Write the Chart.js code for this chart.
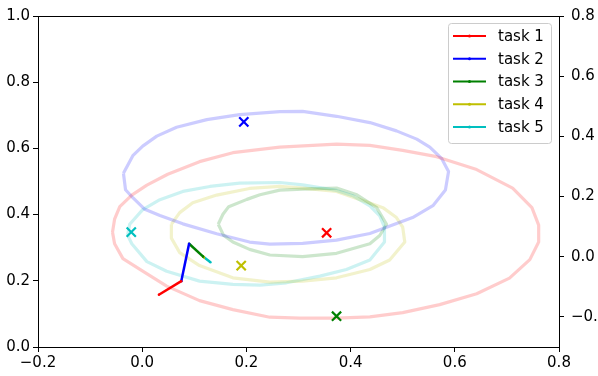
<!DOCTYPE html>
<html>
<head>
<meta charset="utf-8">
<script src="https://cdn.jsdelivr.net/npm/chart.js@4"></script>
<style>
  html, body { margin: 0; padding: 0; background: #fff; overflow: hidden; }
  #wrap { width: 598px; height: 376px; overflow: hidden; }
</style>
</head>
<body>
<div id="wrap"><canvas id="chart" width="620" height="376"></canvas></div>
<script>
const taskNames = ['task 1', 'task 2', 'task 3', 'task 4', 'task 5'];
const lineColors = ['#ff0000', '#0000ff', '#008000', '#bfbf00', '#00bfbf'];
const ringColors = ['rgba(255,0,0,0.2)', 'rgba(0,0,255,0.2)', 'rgba(0,128,0,0.2)', 'rgba(191,191,0,0.2)', 'rgba(0,191,191,0.2)'];

// path of the moving point, one segment per task
const pathX = [0.032, 0.075, 0.090, 0.117, 0.118, 0.131];
const pathY = [0.158, 0.199, 0.312, 0.273, 0.272, 0.256];

// x markers
const markX = [0.354, 0.195, 0.373, 0.190, -0.021];
const markY = [0.345, 0.680, 0.093, 0.246, 0.347];

// outlines
const ring1X = [-0.057, -0.053, -0.043, -0.020, 0.009, 0.049, 0.110, 0.174, 0.264, 0.373, 0.437, 0.500, 0.565, 0.642, 0.711, 0.748, 0.761, 0.761, 0.744, 0.705, 0.642, 0.571, 0.500, 0.437, 0.373, 0.302, 0.245, 0.174, 0.110, 0.047, 0.001, -0.037, -0.053, -0.057];
const ring1Y = [0.347, 0.386, 0.424, 0.459, 0.489, 0.522, 0.560, 0.587, 0.604, 0.613, 0.609, 0.594, 0.575, 0.536, 0.480, 0.421, 0.368, 0.317, 0.264, 0.208, 0.161, 0.128, 0.104, 0.091, 0.087, 0.087, 0.090, 0.113, 0.140, 0.184, 0.229, 0.267, 0.312, 0.347];
const ring2X = [-0.036, -0.018, 0.001, 0.028, 0.066, 0.124, 0.187, 0.264, 0.308, 0.373, 0.437, 0.488, 0.527, 0.552, 0.575, 0.588, 0.582, 0.558, 0.519, 0.469, 0.437, 0.373, 0.308, 0.245, 0.206, 0.143, 0.078, 0.034, 0.005, -0.018, -0.032, -0.036];
const ring2Y = [0.525, 0.578, 0.607, 0.637, 0.664, 0.687, 0.702, 0.711, 0.712, 0.697, 0.678, 0.653, 0.628, 0.604, 0.569, 0.530, 0.474, 0.427, 0.391, 0.362, 0.343, 0.323, 0.313, 0.311, 0.317, 0.342, 0.372, 0.397, 0.416, 0.451, 0.475, 0.525];
const ring3X = [0.146, 0.155, 0.166, 0.201, 0.226, 0.264, 0.308, 0.373, 0.412, 0.450, 0.469, 0.456, 0.437, 0.373, 0.308, 0.245, 0.206, 0.174, 0.156, 0.146];
const ring3Y = [0.371, 0.401, 0.424, 0.446, 0.460, 0.474, 0.477, 0.480, 0.460, 0.421, 0.371, 0.337, 0.312, 0.283, 0.273, 0.278, 0.295, 0.317, 0.338, 0.371];
const ring4X = [0.056, 0.072, 0.097, 0.143, 0.206, 0.264, 0.308, 0.373, 0.417, 0.462, 0.488, 0.500, 0.504, 0.475, 0.437, 0.373, 0.308, 0.245, 0.174, 0.110, 0.072, 0.056, 0.056];
const ring4Y = [0.371, 0.406, 0.436, 0.459, 0.479, 0.485, 0.480, 0.470, 0.446, 0.421, 0.391, 0.362, 0.317, 0.263, 0.234, 0.209, 0.199, 0.196, 0.209, 0.246, 0.285, 0.329, 0.371];
const ring5X = [-0.028, -0.024, 0.001, 0.034, 0.078, 0.130, 0.187, 0.264, 0.308, 0.373, 0.404, 0.437, 0.456, 0.465, 0.465, 0.437, 0.392, 0.341, 0.277, 0.226, 0.174, 0.110, 0.047, 0.009, -0.020, -0.028];
const ring5Y = [0.338, 0.371, 0.415, 0.445, 0.470, 0.485, 0.495, 0.497, 0.490, 0.473, 0.457, 0.426, 0.396, 0.362, 0.317, 0.263, 0.234, 0.214, 0.194, 0.187, 0.189, 0.199, 0.229, 0.258, 0.312, 0.338];

const xTicks = [-0.2, 0.0, 0.2, 0.4, 0.6, 0.8];
const yTicks = [0.0, 0.2, 0.4, 0.6, 0.8, 1.0];
const y2Ticks = [-0.2, 0.0, 0.2, 0.4, 0.6, 0.8];

function pts(xs, ys) {
    return xs.map((x, i) => ({x: x, y: ys[i]}));
}

function fmt(v) {
    if (Math.abs(v) < 1e-9) v = 0;
    return v.toFixed(1).replace('-', '\u2212');
}

const datasets = [];
datasets.push({
    data: pts(markX, markY),
    showLine: false,
    pointStyle: 'crossRot',
    pointRadius: 6.5,
    pointBorderWidth: 2.2,
    pointBorderColor: lineColors,
    pointBackgroundColor: lineColors
});
taskNames.forEach((name, i) => {
    datasets.push({
        label: name,
        data: pts(pathX.slice(i, i + 2), pathY.slice(i, i + 2)),
        showLine: true,
        borderColor: lineColors[i],
        backgroundColor: lineColors[i],
        borderWidth: 2.5,
        pointRadius: 1.2,
        pointBorderWidth: 0
    });
});
const rings = [[ring1X, ring1Y], [ring2X, ring2Y], [ring3X, ring3Y], [ring4X, ring4Y], [ring5X, ring5Y]];
rings.forEach((r, i) => {
    datasets.push({
        data: pts(r[0], r[1]),
        showLine: true,
        borderColor: ringColors[i],
        borderWidth: 3.2,
        pointRadius: 0,
        tension: 0,
        borderJoinStyle: 'round'
    });
});

const tickFont = {family: 'DejaVu Sans', size: 15};
function axisGrid() {
    return {drawOnChartArea: false, drawTicks: true, tickLength: 5, color: '#000', tickColor: '#000', lineWidth: 1};
}
const border = {display: true, color: '#000', width: 1};

const frame = {
    id: 'frame',
    afterDraw(chart) {
        const ctx = chart.ctx;
        const a = chart.chartArea;
        ctx.save();
        ctx.strokeStyle = '#000';
        ctx.lineWidth = 1;
        ctx.beginPath();
        ctx.moveTo(Math.round(a.left) + 0.5, Math.round(a.top) + 0.5);
        ctx.lineTo(Math.round(a.right) + 0.5, Math.round(a.top) + 0.5);
        ctx.stroke();

        // legend box
        const bx = Math.round(a.right) - 111, by = Math.round(a.top) + 7, bw = 103, bh = 120;
        ctx.beginPath();
        ctx.roundRect(bx + 0.5, by + 0.5, bw, bh, 3);
        ctx.fillStyle = 'rgba(255,255,255,0.8)';
        ctx.fill();
        ctx.strokeStyle = '#cccccc';
        ctx.stroke();
        ctx.font = '15px "DejaVu Sans"';
        ctx.textBaseline = 'middle';
        taskNames.forEach((name, i) => {
            const y = by + 13 + i * 22.75;
            ctx.strokeStyle = lineColors[i];
            ctx.lineWidth = 2;
            ctx.beginPath();
            ctx.moveTo(bx + 5, y);
            ctx.lineTo(bx + 38, y);
            ctx.stroke();
            ctx.fillStyle = lineColors[i];
            ctx.beginPath();
            ctx.arc(bx + 21.5, y, 1.5, 0, 2 * Math.PI);
            ctx.fill();
            ctx.fillStyle = '#000';
            ctx.fillText(name, bx + 50, y + 1);
        });
        ctx.restore();
    }
};

new Chart(document.getElementById('chart').getContext('2d'), {
    type: 'scatter',
    data: {datasets: datasets},
    plugins: [frame],
    options: {
        responsive: false,
        animation: false,
        devicePixelRatio: 1,
        layout: {padding: {top: 9, left: 0, right: 0, bottom: 0}},
        plugins: {legend: {display: false}, tooltip: {enabled: false}},
        scales: {
            x: {
                type: 'linear',
                min: -0.2, max: 0.8,
                afterBuildTicks: s => { s.ticks = xTicks.map(v => ({value: v})); },
                afterFit: s => { s.height = 29; },
                ticks: {callback: fmt, font: tickFont, color: '#000', padding: 2, maxRotation: 0, autoSkip: false},
                grid: axisGrid(),
                border: border
            },
            y: {
                type: 'linear',
                position: 'left',
                min: 0, max: 1,
                afterBuildTicks: s => { s.ticks = yTicks.map(v => ({value: v})); },
                afterFit: s => { s.width = 38; },
                ticks: {callback: fmt, font: tickFont, color: '#000', padding: 3, autoSkip: false},
                grid: axisGrid(),
                border: border
            },
            y2: {
                type: 'linear',
                position: 'right',
                min: -0.3, max: 0.8,
                afterBuildTicks: s => { s.ticks = y2Ticks.map(v => ({value: v})); },
                afterFit: s => { s.width = 61; },
                ticks: {callback: fmt, font: tickFont, color: '#000', padding: 7, autoSkip: false},
                grid: axisGrid(),
                border: border
            }
        }
    }
});
</script>
</body>
</html>
